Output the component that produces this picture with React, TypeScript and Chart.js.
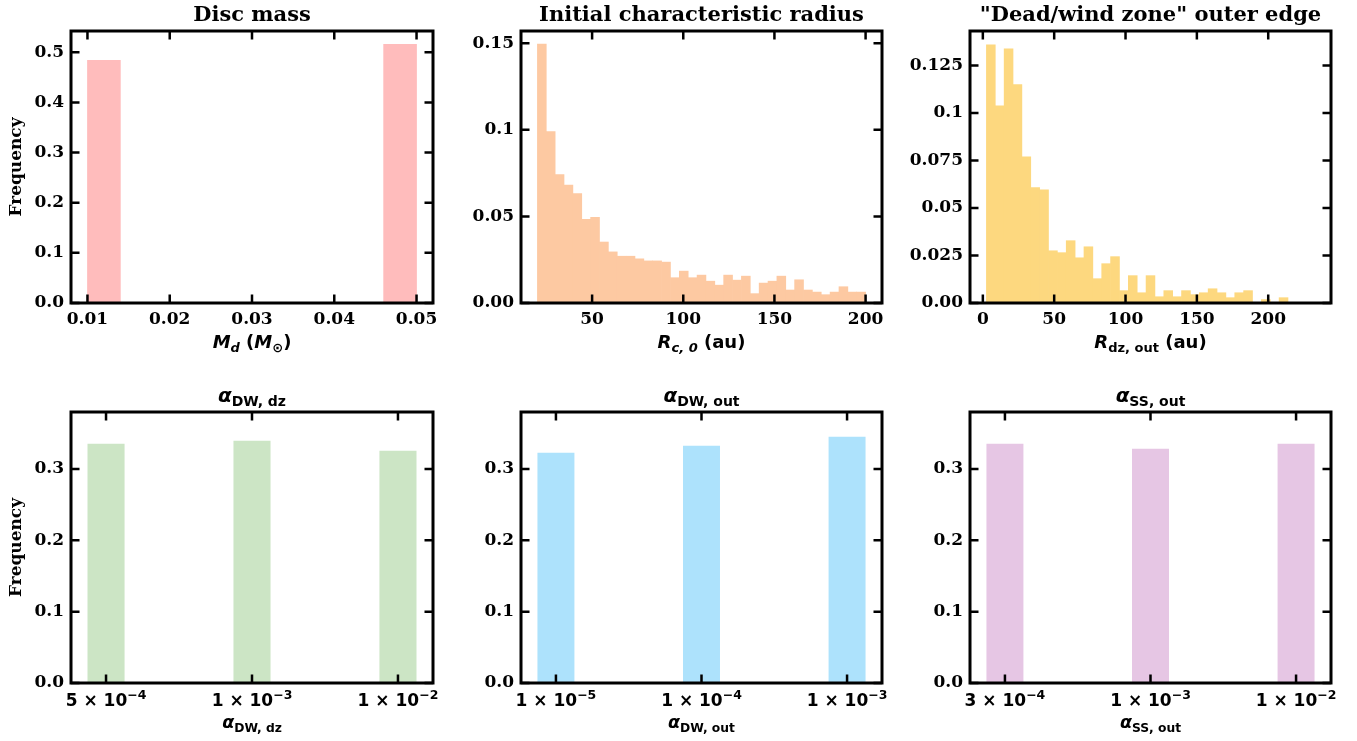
import { useEffect, useRef } from 'react';
import { Chart, registerables } from 'chart.js';
Chart.register(...registerables);

// ---------------- data ----------------
// Disc mass histogram (10 bins between 0.01 and 0.05)
const MD_BIN_MIN = 0.01;
const MD_BIN_MAX = 0.05;
const MD_FREQ = [0.484, 0, 0, 0, 0, 0, 0, 0, 0, 0.516];
const MD_XTICKS = [0.01, 0.02, 0.03, 0.04, 0.05];
const MD_XLABELS = ['0.01', '0.02', '0.03', '0.04', '0.05'];
const MD_YTICKS = [0, 0.1, 0.2, 0.3, 0.4, 0.5];
const MD_YLABELS = ['0.0', '0.1', '0.2', '0.3', '0.4', '0.5'];

// Initial characteristic radius (37 bins between 20 and 200 au)
const RC_BIN_MIN = 20;
const RC_BIN_MAX = 200;
const RC_FREQ = [
  0.1494, 0.0989, 0.0741, 0.068, 0.0632, 0.0483, 0.0494, 0.0352, 0.0295, 0.027,
  0.027, 0.0255, 0.0243, 0.0243, 0.0236, 0.0146, 0.0184, 0.0146, 0.0161, 0.0126,
  0.0103, 0.0161, 0.0132, 0.0155, 0.0054, 0.0115, 0.0126, 0.0155, 0.0075, 0.0134,
  0.0075, 0.0063, 0.0048, 0.0063, 0.0094, 0.0063, 0.0063,
];
const RC_XTICKS = [50, 100, 150, 200];
const RC_XLABELS = ['50', '100', '150', '200'];
const RC_YTICKS = [0, 0.05, 0.1, 0.15];
const RC_YLABELS = ['0.00', '0.05', '0.1', '0.15'];

// Dead/wind zone outer edge (37 bins between 2.5 and 232.5 au)
const RDZ_BIN_MIN = 2.5;
const RDZ_BIN_MAX = 232.5;
const RDZ_FREQ = [
  0.1359, 0.1038, 0.1338, 0.115, 0.077, 0.0608, 0.0596, 0.0275, 0.0265, 0.0328,
  0.0238, 0.0296, 0.0128, 0.0207, 0.0244, 0.0065, 0.0144, 0.0054, 0.0144, 0.0033,
  0.0065, 0.0033, 0.0065, 0.0044, 0.0054, 0.0075, 0.0054, 0.0028, 0.0054, 0.0065,
  0, 0.0018, 0, 0.0028, 0, 0, 0,
];
const RDZ_XTICKS = [0, 50, 100, 150, 200];
const RDZ_XLABELS = ['0', '50', '100', '150', '200'];
const RDZ_YTICKS = [0, 0.025, 0.05, 0.075, 0.1, 0.125];
const RDZ_YLABELS = ['0.00', '0.025', '0.05', '0.075', '0.1', '0.125'];

// Discrete alpha parameters: [mantissa, exponent] tick labels
const ALPHA_YTICKS = [0, 0.1, 0.2, 0.3];
const ALPHA_YLABELS = ['0.0', '0.1', '0.2', '0.3'];
const DWDZ_LABELS: [string, string][] = [['5', '−4'], ['1', '−3'], ['1', '−2']];
const DWDZ_FREQ = [0.3356, 0.3398, 0.3258];
const DWOUT_LABELS: [string, string][] = [['1', '−5'], ['1', '−4'], ['1', '−3']];
const DWOUT_FREQ = [0.3229, 0.3327, 0.3453];
const SSOUT_LABELS: [string, string][] = [['3', '−4'], ['1', '−3'], ['1', '−2']];
const SSOUT_FREQ = [0.3356, 0.3285, 0.3356];

// ---------------- helpers ----------------
type Seg = { t: string; f: string; dy?: number };
type Pt = { x: number; y: number };

function histPoints(min: number, max: number, freq: number[]): Pt[] {
  const w = (max - min) / freq.length;
  return freq.map((y, i) => ({ x: min + w * (i + 0.5), y }));
}
function indexPoints(freq: number[]): Pt[] {
  return freq.map((y, i) => ({ x: i, y }));
}

const SERIF = "'DejaVu Serif', serif";
const SANS = "'DejaVu Sans', sans-serif";
const fBI = (s: number) => `italic bold ${s}px ${SANS}`;
const fB = (s: number) => `bold ${s}px ${SANS}`;

function drawRich(ctx: CanvasRenderingContext2D, segs: Seg[], cx: number, y: number) {
  let w = 0;
  for (const s of segs) {
    ctx.font = s.f;
    w += ctx.measureText(s.t).width;
  }
  let x = cx - w / 2;
  ctx.textAlign = 'left';
  ctx.textBaseline = 'alphabetic';
  for (const s of segs) {
    ctx.font = s.f;
    ctx.fillText(s.t, x, y + (s.dy || 0));
    x += ctx.measureText(s.t).width;
  }
}

function sciLabel(m: string, e: string): Seg[] {
  return [
    { t: m + ' × 10', f: fB(17) },
    { t: e, f: fB(12.5), dy: -7 },
  ];
}

type PanelCfg = {
  L: number; T: number; R: number; B: number;
  color: string;
  points: Pt[];
  barPct: number;
  xMin: number; xMax: number; yMax: number;
  xTicks: number[]; xLabels: string[];
  sciLabels?: [string, string][];
  yTicks: number[]; yLabels: string[];
  title: Seg[];
  xlabel: Seg[];
  ylabel?: string;
};

const PAD_L = 70;
const PAD_T = 32;
const PAD_R = 25;
const PAD_B = 60;
const X_AXIS_H = 40;
const Y_AXIS_W = 60;

const decor = {
  id: 'decor',
  afterDraw(chart: any) {
    const cfg: PanelCfg = chart.options.plugins.decor.cfg;
    const ctx: CanvasRenderingContext2D = chart.ctx;
    const { left, right, top, bottom } = chart.chartArea;
    const xs = chart.scales.x;
    const ys = chart.scales.y;
    ctx.save();
    ctx.strokeStyle = '#000';
    ctx.fillStyle = '#000';
    // inward ticks on all four sides
    ctx.lineWidth = 2.5;
    ctx.beginPath();
    const TL = 8.5;
    for (const v of cfg.xTicks) {
      const px = xs.getPixelForValue(v);
      ctx.moveTo(px, bottom); ctx.lineTo(px, bottom - TL);
      ctx.moveTo(px, top); ctx.lineTo(px, top + TL);
    }
    for (const v of cfg.yTicks) {
      const py = ys.getPixelForValue(v);
      ctx.moveTo(left, py); ctx.lineTo(left + TL, py);
      ctx.moveTo(right, py); ctx.lineTo(right - TL, py);
    }
    ctx.stroke();
    // frame
    ctx.lineWidth = 3;
    ctx.strokeRect(left, top, right - left, bottom - top);
    // scientific tick labels (mantissa × 10^exponent)
    if (cfg.sciLabels) {
      cfg.sciLabels.forEach(([m, e], i) => {
        drawRich(ctx, sciLabel(m, e), xs.getPixelForValue(cfg.xTicks[i]), bottom + 23);
      });
    }
    const cx = (left + right) / 2;
    drawRich(ctx, cfg.title, cx, top - 10);
    drawRich(ctx, cfg.xlabel, cx, bottom + 45);
    if (cfg.ylabel) {
      ctx.save();
      ctx.translate(left - 54, (top + bottom) / 2);
      ctx.rotate(-Math.PI / 2);
      ctx.font = `bold 17px ${SERIF}`;
      ctx.textAlign = 'center';
      ctx.textBaseline = 'middle';
      ctx.fillText(cfg.ylabel, 0, 0);
      ctx.restore();
    }
    ctx.restore();
  },
};

function Panel({ cfg }: { cfg: PanelCfg }) {
  const ref = useRef<HTMLCanvasElement>(null);
  const W = cfg.R - cfg.L + PAD_L + PAD_R;
  const H = cfg.B - cfg.T + PAD_T + PAD_B;
  useEffect(() => {
    const chart = new Chart(ref.current as HTMLCanvasElement, {
      type: 'bar',
      data: {
        datasets: [
          {
            data: cfg.points as any,
            backgroundColor: cfg.color,
            borderWidth: 0,
            barPercentage: cfg.barPct,
            categoryPercentage: 1,
          },
        ],
      },
      options: {
        responsive: false,
        animation: false,
        events: [],
        layout: {
          padding: { left: PAD_L - Y_AXIS_W, top: PAD_T, right: PAD_R, bottom: PAD_B - X_AXIS_H },
        },
        plugins: {
          legend: { display: false },
          tooltip: { enabled: false },
          title: { display: false },
          decor: { cfg },
        } as any,
        scales: {
          x: {
            type: 'linear',
            min: cfg.xMin,
            max: cfg.xMax,
            offset: false,
            grid: { display: false, drawTicks: false },
            border: { display: false },
            ticks: {
              display: !cfg.sciLabels,
              color: '#000',
              padding: 6,
              autoSkip: false,
              maxRotation: 0,
              font: { family: SERIF, size: 17, weight: 'bold' },
              callback: (_v: any, i: number) => cfg.xLabels[i],
            },
            afterBuildTicks: (s: any) => {
              s.ticks = cfg.xTicks.map((v) => ({ value: v }));
            },
            afterFit: (s: any) => {
              s.height = X_AXIS_H;
              s.paddingLeft = 0;
              s.paddingRight = 0;
            },
          },
          y: {
            type: 'linear',
            min: 0,
            max: cfg.yMax,
            grid: { display: false, drawTicks: false },
            border: { display: false },
            ticks: {
              color: '#000',
              padding: 7,
              autoSkip: false,
              font: { family: SERIF, size: 17, weight: 'bold' },
              callback: (_v: any, i: number) => cfg.yLabels[i],
            },
            afterBuildTicks: (s: any) => {
              s.ticks = cfg.yTicks.map((v) => ({ value: v }));
            },
            afterFit: (s: any) => {
              s.width = Y_AXIS_W;
              s.paddingTop = 0;
              s.paddingBottom = 0;
            },
          },
        } as any,
      },
      plugins: [decor],
    });
    return () => chart.destroy();
  }, []);
  return (
    <canvas
      ref={ref}
      width={W}
      height={H}
      style={{ position: 'absolute', left: cfg.L - PAD_L, top: cfg.T - PAD_T, width: W, height: H }}
    />
  );
}

const ROW1 = { T: 31, B: 303 };
const ROW2 = { T: 412, B: 683 };
const COL1 = { L: 71, R: 433 };
const COL2 = { L: 521, R: 882 };
const COL3 = { L: 970, R: 1331 };

const titleFont = `bold 21px ${SERIF}`;
const alphaTitle = (sub: string): Seg[] => [
  { t: 'α', f: fBI(20) },
  { t: sub, f: fB(14), dy: 3.5 },
];
const alphaLabel = (sub: string): Seg[] => [
  { t: 'α', f: fBI(17.5) },
  { t: sub, f: fB(12.3), dy: 3.5 },
];

const PANELS: PanelCfg[] = [
  {
    ...ROW1, ...COL1,
    color: '#FFBCBC',
    points: histPoints(MD_BIN_MIN, MD_BIN_MAX, MD_FREQ),
    barPct: 1,
    xMin: 0.008, xMax: 0.052, yMax: 0.5425,
    xTicks: MD_XTICKS, xLabels: MD_XLABELS,
    yTicks: MD_YTICKS, yLabels: MD_YLABELS,
    title: [{ t: 'Disc mass', f: titleFont }],
    xlabel: [
      { t: 'M', f: fBI(18) },
      { t: 'd', f: fBI(13), dy: 3.5 },
      { t: ' (', f: fB(18) },
      { t: 'M', f: fBI(18) },
      { t: '⊙', f: fB(13), dy: 3.5 },
      { t: ')', f: fB(18) },
    ],
    ylabel: 'Frequency',
  },
  {
    ...ROW1, ...COL2,
    color: '#FDC9A2',
    points: histPoints(RC_BIN_MIN, RC_BIN_MAX, RC_FREQ),
    barPct: 1,
    xMin: 11, xMax: 209, yMax: 0.157,
    xTicks: RC_XTICKS, xLabels: RC_XLABELS,
    yTicks: RC_YTICKS, yLabels: RC_YLABELS,
    title: [{ t: 'Initial characteristic radius', f: titleFont }],
    xlabel: [
      { t: 'R', f: fBI(18) },
      { t: 'c, 0', f: fBI(13), dy: 3.5 },
      { t: ' (au)', f: fB(18) },
    ],
  },
  {
    ...ROW1, ...COL3,
    color: '#FDD87F',
    points: histPoints(RDZ_BIN_MIN, RDZ_BIN_MAX, RDZ_FREQ),
    barPct: 1,
    xMin: -9, xMax: 244, yMax: 0.1432,
    xTicks: RDZ_XTICKS, xLabels: RDZ_XLABELS,
    yTicks: RDZ_YTICKS, yLabels: RDZ_YLABELS,
    title: [{ t: '"Dead/wind zone" outer edge', f: titleFont }],
    xlabel: [
      { t: 'R', f: fBI(18) },
      { t: 'dz, out', f: fB(13), dy: 3.5 },
      { t: ' (au)', f: fB(18) },
    ],
  },
  {
    ...ROW2, ...COL1,
    color: '#CCE5C5',
    points: indexPoints(DWDZ_FREQ),
    barPct: 0.254,
    xMin: -0.24, xMax: 2.24, yMax: 0.38,
    xTicks: [0, 1, 2], xLabels: ['', '', ''], sciLabels: DWDZ_LABELS,
    yTicks: ALPHA_YTICKS, yLabels: ALPHA_YLABELS,
    title: alphaTitle('DW, dz'),
    xlabel: alphaLabel('DW, dz'),
    ylabel: 'Frequency',
  },
  {
    ...ROW2, ...COL2,
    color: '#ADE2FC',
    points: indexPoints(DWOUT_FREQ),
    barPct: 0.254,
    xMin: -0.24, xMax: 2.24, yMax: 0.38,
    xTicks: [0, 1, 2], xLabels: ['', '', ''], sciLabels: DWOUT_LABELS,
    yTicks: ALPHA_YTICKS, yLabels: ALPHA_YLABELS,
    title: alphaTitle('DW, out'),
    xlabel: alphaLabel('DW, out'),
  },
  {
    ...ROW2, ...COL3,
    color: '#E6C6E4',
    points: indexPoints(SSOUT_FREQ),
    barPct: 0.254,
    xMin: -0.24, xMax: 2.24, yMax: 0.38,
    xTicks: [0, 1, 2], xLabels: ['', '', ''], sciLabels: SSOUT_LABELS,
    yTicks: ALPHA_YTICKS, yLabels: ALPHA_YLABELS,
    title: alphaTitle('SS, out'),
    xlabel: alphaLabel('SS, out'),
  },
];

export default function App() {
  return (
    <div style={{ position: 'fixed', left: 0, top: 0, width: 1357, height: 741, background: '#fff', overflow: 'hidden' }}>
      {PANELS.map((p, i) => (
        <Panel key={i} cfg={p} />
      ))}
    </div>
  );
}
